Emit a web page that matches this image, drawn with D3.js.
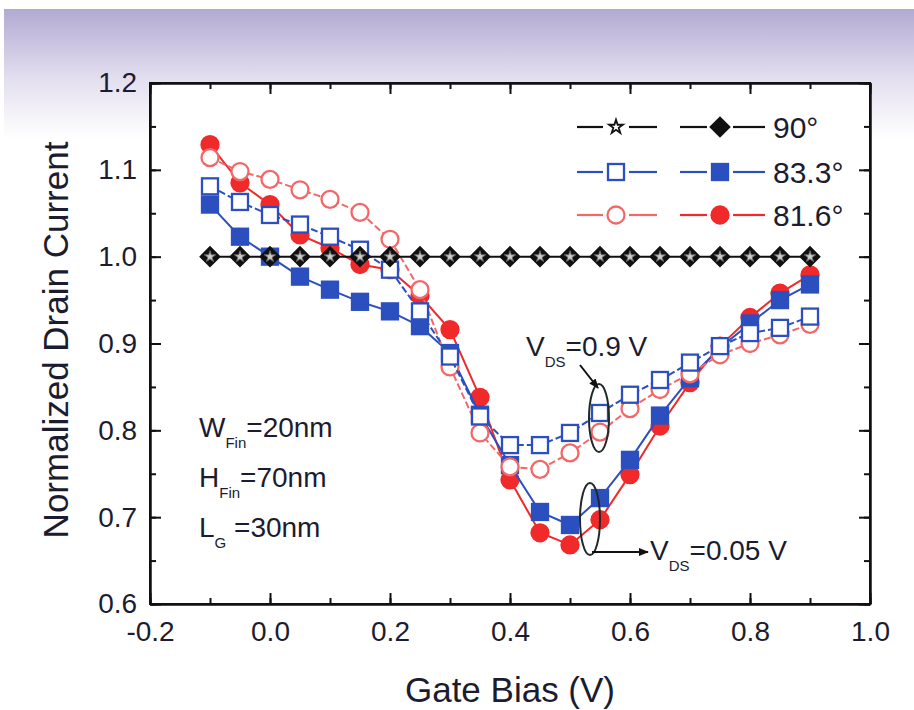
<!DOCTYPE html>
<html><head><meta charset="utf-8">
<script src="https://cdn.jsdelivr.net/npm/d3@7"></script>
<style>body{margin:0;background:#fff}svg{display:block}text{font-family:"Liberation Sans",Arial,sans-serif;fill:#1c1c30}</style>
</head><body>
<script>
const gateBias = [-0.1,-0.05,0,0.05,0.1,0.15,0.2,0.25,0.3,0.35,0.4,0.45,0.5,0.55,0.6,0.65,0.7,0.75,0.8,0.85,0.9];
const s90Open   = [1,1,1,1,1,1,1,1,1,1,1,1,1,1,1,1,1,1,1,1,1];
const s90Filled = [1,1,1,1,1,1,1,1,1,1,1,1,1,1,1,1,1,1,1,1,1];
const s833Open   = [1.081,1.063,1.048,1.037,1.023,1.008,0.985,0.937,0.885,0.816,0.783,0.783,0.797,0.820,0.841,0.858,0.878,0.897,0.912,0.918,0.931];
const s833Filled = [1.060,1.023,1.000,0.977,0.962,0.948,0.937,0.920,0.889,0.818,0.760,0.706,0.691,0.722,0.766,0.817,0.860,0.895,0.923,0.950,0.968];
const s816Open   = [1.114,1.098,1.089,1.077,1.066,1.051,1.020,0.962,0.873,0.797,0.758,0.755,0.774,0.798,0.825,0.847,0.865,0.887,0.900,0.910,0.922];
const s816Filled = [1.129,1.085,1.060,1.025,1.010,0.991,0.985,0.955,0.916,0.838,0.743,0.682,0.668,0.697,0.749,0.805,0.855,0.897,0.930,0.958,0.979];
const xTicks = [-0.2,0.0,0.2,0.4,0.6,0.8,1.0];
const yTicks = [0.6,0.7,0.8,0.9,1.0,1.1,1.2];
const legendLabels = ["90°","83.3°","81.6°"];

const W=914,H=710;
const svg=d3.select("body").append("svg").attr("width",W).attr("height",H);
const defs=svg.append("defs");
const grad=defs.append("linearGradient").attr("id","bg").attr("x1",0).attr("y1",0).attr("x2",0).attr("y2",1);
grad.append("stop").attr("offset",0).attr("stop-color","#b2aad3");
grad.append("stop").attr("offset",0.55).attr("stop-color","#e4e0f0");
grad.append("stop").attr("offset",1).attr("stop-color","#ffffff");
svg.append("rect").attr("x",4).attr("y",9).attr("width",W-4).attr("height",130).attr("fill","url(#bg)");

const x=d3.scaleLinear().domain([-0.2,1.0]).range([150,870]);
const y=d3.scaleLinear().domain([0.6,1.2]).range([604,83]);
const fmt=d=>d.toFixed(1);

svg.append("rect").attr("x",150).attr("y",83).attr("width",720).attr("height",521).attr("fill","#fff").attr("stroke","#111").attr("stroke-width",2);

const minorX=d3.range(-0.2,1.0001,0.1);
const minorY=d3.range(0.6,1.2001,0.05);
function ax(gen,tr,vals,size,lab){
  const g=svg.append("g").attr("transform",tr).call(gen.tickValues(vals).tickSizeInner(size).tickSizeOuter(0).tickPadding(10).tickFormat(lab?fmt:""));
  g.select(".domain").attr("stroke","#111").attr("stroke-width",2);
  g.selectAll(".tick line").attr("stroke","#111").attr("stroke-width",2);
  g.selectAll(".tick text").style("font-size","28px").attr("fill","#1c1c30");
  return g;
}
ax(d3.axisBottom(x),"translate(0,604)",minorX,-6,false);
ax(d3.axisBottom(x),"translate(0,604)",xTicks,-11,true).selectAll(".tick text").attr("dy","0.95em");
ax(d3.axisTop(x),"translate(0,83)",minorX,-6,false);
ax(d3.axisTop(x),"translate(0,83)",xTicks,-11,false);
ax(d3.axisLeft(y),"translate(150,0)",minorY,-6,false);
ax(d3.axisLeft(y),"translate(150,0)",yTicks,-11,true).selectAll(".tick text").attr("dx","-0.1em");
ax(d3.axisRight(y),"translate(870,0)",minorY,-6,false);
ax(d3.axisRight(y),"translate(870,0)",yTicks,-11,false);

svg.append("text").attr("x",510).attr("y",702).attr("text-anchor","middle").style("font-size","35px").text("Gate Bias (V)");
svg.append("text").attr("transform","translate(68,340) rotate(-90)").attr("text-anchor","middle").style("font-size","35px").text("Normalized Drain Current");

const BLUE="#2b4fbf", RED="#f02a2a", REDL="#f26868", BLK="#111";
const line=d3.line().x((d,i)=>x(gateBias[i])).y(d=>y(d));
function marker(g,type,color,filled,cx,cy){
  let s;
  if(type==="sq"){ s=g.append("rect").attr("x",cx-8).attr("y",cy-8).attr("width",16).attr("height",16);}
  else if(type==="ci"){ s=g.append("circle").attr("cx",cx).attr("cy",cy).attr("r",8.5);}
  else if(type==="di"){ s=g.append("rect").attr("x",-6.5).attr("y",-6.5).attr("width",13).attr("height",13).attr("transform",`translate(${cx},${cy}) rotate(45)`);}
  s.attr("fill",filled?color:"#fff").attr("stroke",color).attr("stroke-width",2.3);
}
function series(vals,type,color,filled,dash){
  const g=svg.append("g");
  g.append("path").datum(vals).attr("d",line).attr("fill","none").attr("stroke",color).attr("stroke-width",2).attr("stroke-dasharray",dash||null);
  vals.forEach((v,i)=>marker(g,type,color,filled,x(gateBias[i]),y(v)));
}
series(s816Filled,"ci",RED,true);
series(s833Filled,"sq",BLUE,true);
series(s816Open,"ci",REDL,false,"7,3");
series(s833Open,"sq",BLUE,false,"7,3");
series(s90Filled,"di",BLK,true);
{ const g=svg.append("g"); s90Open.forEach((v,i)=>{ g.append("path").attr("d",d3.symbol(d3.symbolStar,40)()).attr("transform",`translate(${x(gateBias[i])},${y(v)})`).attr("fill","#ccc").attr("stroke","#666").attr("stroke-width",1);}); }

// legend
const legRows=[[BLK,BLK,"st","di"],[BLUE,BLUE,"sq","sq"],[REDL,RED,"ci","ci"]];
const legY=[127,172,215];
legRows.forEach((r,k)=>{
  const g=svg.append("g"); const yy=legY[k];
  [[577,657,616,r[0],r[2],false],[680,765,720,r[1],r[3],true]].forEach(([a,b,m,c,t,f])=>{
    g.append("line").attr("x1",a).attr("x2",m-13).attr("y1",yy).attr("y2",yy).attr("stroke",c).attr("stroke-width",2.2);
    g.append("line").attr("x1",m+13).attr("x2",b).attr("y1",yy).attr("y2",yy).attr("stroke",c).attr("stroke-width",2.2);
    if(t==="st") g.append("path").attr("d",d3.symbol(d3.symbolStar,60)()).attr("transform",`translate(${m},${yy})`).attr("fill","#fff").attr("stroke",c).attr("stroke-width",1.8);
    else marker(g,t,c,f,m,yy);
  });
  g.append("text").attr("x",773).attr("y",yy+11).style("font-size","30px").text(legendLabels[k]);
});

// annotations
function sub(xx,yy,main,s,rest,fs){
  const t=svg.append("text").attr("x",xx).attr("y",yy).style("font-size",fs+"px");
  t.append("tspan").text(main);
  t.append("tspan").attr("dy",11).style("font-size","15px").text(s);
  t.append("tspan").attr("dy",-11).text(rest);
}
const params=[["W","Fin","=20nm"],["H","Fin","=70nm"],["L","G"," =30nm"]];
params.forEach((p,i)=>sub(199,437+i*50,p[0],p[1],p[2],28));
sub(526,356,"V","DS","=0.9 V",28);
sub(650,560,"V","DS","=0.05 V",28);

defs.append("marker").attr("id","ah").attr("viewBox","0 0 10 10").attr("refX",9).attr("refY",5).attr("markerWidth",5).attr("markerHeight",5).attr("orient","auto")
  .append("path").attr("d","M0,1 L10,5 L0,9 Z").attr("fill","#111");
svg.append("ellipse").attr("cx",599).attr("cy",418).attr("rx",10).attr("ry",34).attr("fill","none").attr("stroke","#1e2a2a").attr("stroke-width",2);
svg.append("ellipse").attr("cx",590).attr("cy",519).attr("rx",10).attr("ry",36).attr("fill","none").attr("stroke","#1e2a2a").attr("stroke-width",2);
svg.append("line").attr("x1",580).attr("y1",365).attr("x2",598).attr("y2",388).attr("stroke","#111").attr("stroke-width",2).attr("marker-end","url(#ah)");
svg.append("polyline").attr("points","592,552 596,552 648,552").attr("fill","none").attr("stroke","#111").attr("stroke-width",2).attr("marker-end","url(#ah)");
</script>
</body></html>
